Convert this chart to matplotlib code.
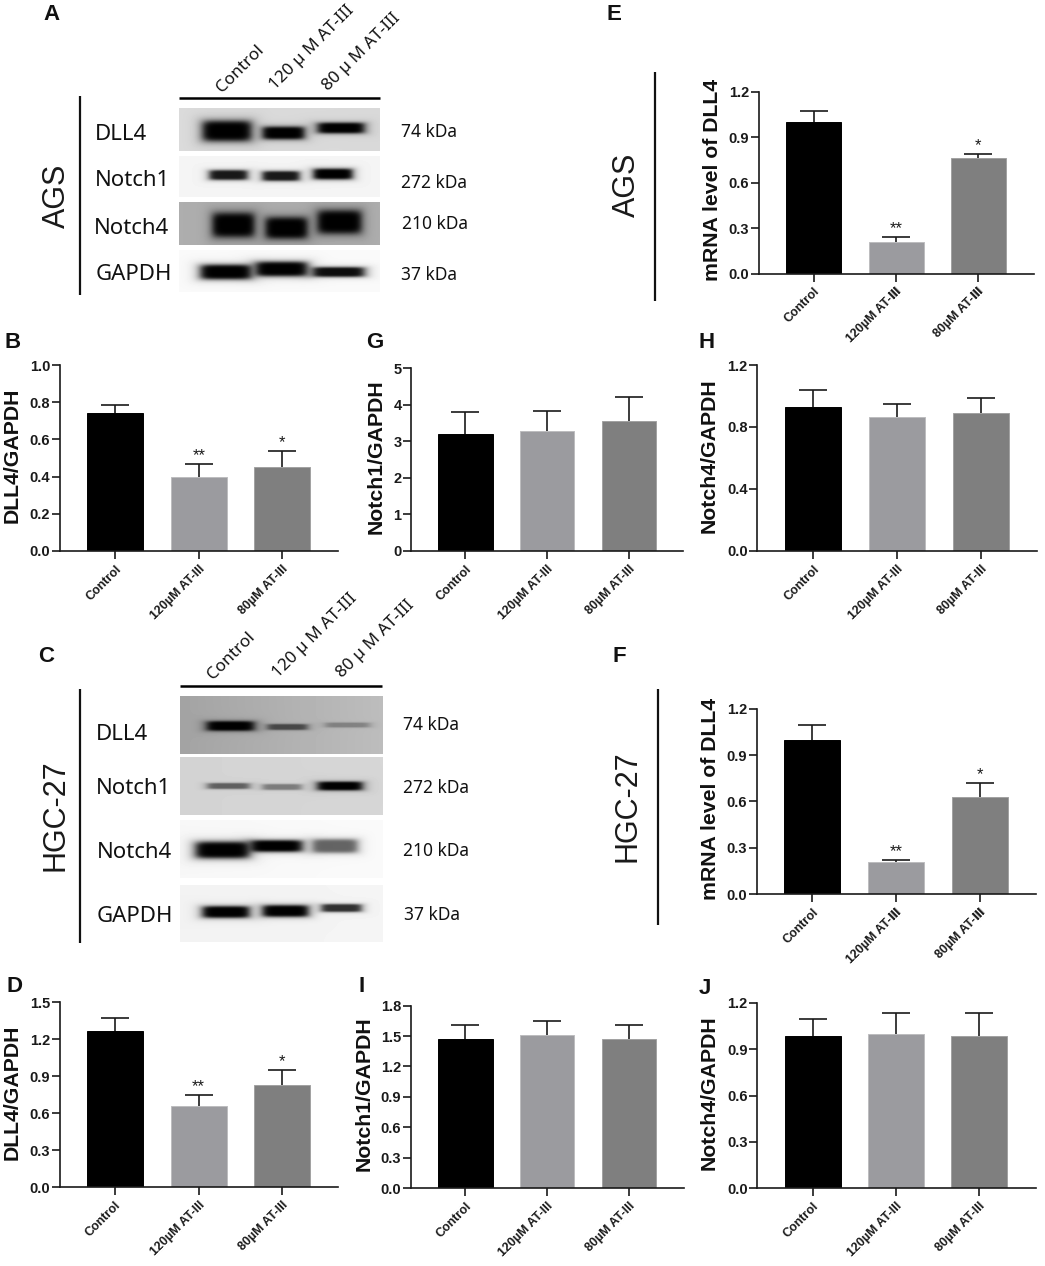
import matplotlib

matplotlib.use("Agg")
import matplotlib.pyplot as plt
import numpy as np

plt.rcParams['font.family'] = ['Liberation Sans', 'DejaVu Sans']

W, H = 1045, 1266
BLOT_FONT = ['Noto Sans', 'DejaVu Sans']
BAR_COLORS = ['#000000', '#9b9b9f', '#7f7f7f']
BAR_EDGES = ['#000000', '#bdbdbf', '#a2a2a2']

LABELS_DASH = ['Control', '120µM AT-III', '80µM AT-III']
LABELS_ROMAN = ['Control', '120µM AT-Ⅲ', '80µM AT-Ⅲ']

# bar heights and upper error bar ends
dll4_ags = [0.74, 0.40, 0.45]
dll4_ags_top = [0.785, 0.47, 0.54]
notch1_ags = [3.21, 3.29, 3.57]
notch1_ags_top = [3.80, 3.82, 4.21]
notch4_ags = [0.931, 0.866, 0.888]
notch4_ags_top = [1.041, 0.948, 0.985]
dll4_hgc = [1.263, 0.66, 0.825]
dll4_hgc_top = [1.368, 0.75, 0.947]
notch1_hgc = [1.471, 1.51, 1.468]
notch1_hgc_top = [1.609, 1.649, 1.606]
notch4_hgc = [0.982, 0.998, 0.987]
notch4_hgc_top = [1.094, 1.133, 1.133]
mrna_ags = [1.0, 0.209, 0.76]
mrna_ags_top = [1.073, 0.24, 0.79]
mrna_hgc = [1.0, 0.205, 0.628]
mrna_hgc_top = [1.094, 0.222, 0.72]

stars = ['', '**', '*']

# blot rows: name, top, bottom, background left/right grey
blot_ags_rows = [
    ('DLL4', 108, 151, 0.86, 0.85),
    ('Notch1', 156, 197, 0.96, 0.96),
    ('Notch4', 202, 245, 0.68, 0.68),
    ('GAPDH', 250, 292, 0.98, 0.98),
]
# bands per row: left, right, centre, height, strength
blot_ags_bands = [
    [(202, 252, 131, 21, 1.0), (262, 305, 133, 13, 1.0), (317, 365, 128, 11, 1.0)],
    [(209, 248, 175, 10, 0.9), (262, 300, 176, 10, 0.9), (313, 353, 174, 11, 1.0)],
    [(212, 255, 225, 25, 1.0), (265, 308, 228, 22, 1.0), (317, 362, 222, 24, 1.0)],
    [(200, 252, 272, 15, 1.0), (255, 308, 269, 15, 1.0), (312, 365, 272, 10, 0.95)],
]
blot_ags_kda = ['74 kDa', '272 kDa', '210 kDa', '37 kDa']

blot_hgc_rows = [
    ('DLL4', 696, 754, 0.64, 0.74),
    ('Notch1', 757, 815, 0.83, 0.84),
    ('Notch4', 820, 878, 0.97, 0.98),
    ('GAPDH', 885, 942, 0.95, 0.96),
]
blot_hgc_bands = [
    [(206, 255, 726, 10, 1.0), (267, 308, 727, 6, 0.6), (325, 370, 725, 5, 0.3)],
    [(207, 250, 786, 6, 0.55), (262, 302, 787, 6, 0.42), (317, 363, 786, 9, 1.0)],
    [(195, 250, 850, 17, 1.0), (250, 303, 846, 12, 1.0), (312, 358, 846, 14, 0.6)],
    [(202, 250, 912, 12, 1.0), (262, 309, 911, 12, 1.0), (321, 362, 908, 8, 0.8)],
]
blot_hgc_kda = ['74 kDa', '272 kDa', '210 kDa', '37 kDa']


fig = plt.figure(figsize=(W / 100, H / 100), dpi=100, facecolor='white')
page = fig.add_axes([0, 0, 1, 1])
page.axis('off')


def draw_blot(rows, bands, x0, x1):
    """Paints one stack of blot strips, in page pixels."""
    for (name, top, bottom, g0, g1), row_bands in zip(rows, bands):
        xs = np.arange(x0, x1) + 0.5
        ys = np.arange(top, bottom) + 0.5
        img = np.tile(np.linspace(g0, g1, len(xs)), (len(ys), 1))
        xx, yy = np.meshgrid(xs, ys)
        for left, right, cy, height, strength in row_bands:
            dx = np.abs(xx - (left + right) / 2) / ((right - left) / 2)
            dy = np.abs(yy - cy) / (height / 2)
            d = dx ** 6 + dy ** 4
            img *= 1 - strength / (1 + d ** 1.5)
        page.imshow(img, extent=(x0, x1, bottom, top), cmap='gray',
                    vmin=0, vmax=1, aspect='auto', interpolation='bilinear')


def bar_panel(values, tops, ylabel, yticks, ticklabels, x_labels, x0, x1, y_top, y0,
              centers, bar_w, ylabel_x, marks=None):
    ax = fig.add_axes([x0 / W, 1 - y0 / H, (x1 - x0) / W, (y0 - y_top) / H])
    ax.patch.set_visible(False)
    step = (centers[2] - centers[0]) / 2
    pos = np.arange(3)
    ax.set_xlim(-(centers[0] - x0) / step, 2 + (x1 - centers[2]) / step)
    ax.set_ylim(0, yticks[-1])
    ax.bar(pos, values, width=bar_w / step, color=BAR_COLORS, edgecolor=BAR_EDGES,
           linewidth=0.7, zorder=3)
    # upper whisker only, the lower cap would show on top of the bar
    ax.vlines(pos, values, tops, color='#1a1a1a', linewidth=1.2, zorder=2)
    ax.plot(pos, tops, linestyle='none', marker='_', markersize=20, markeredgewidth=1.2,
            color='#1a1a1a', zorder=2, clip_on=False)
    for spine in ['top', 'right']:
        ax.spines[spine].set_visible(False)
    for spine in ['left', 'bottom']:
        ax.spines[spine].set_linewidth(1.2)
        ax.spines[spine].set_color('#1a1a1a')
        ax.spines[spine].set_zorder(4)
    ax.set_yticks(yticks)
    ax.set_yticklabels(ticklabels, fontsize=10.5, fontweight='bold', color='#1a1a1a')
    ax.set_xticks(pos)
    ax.set_xticklabels(x_labels, fontsize=9, fontweight='bold', rotation=45, ha='right',
                       va='top', rotation_mode='anchor', color='#1a1a1a')
    ax.tick_params(axis='both', length=5.5, width=1.2, color='#1a1a1a')
    ax.tick_params(axis='y', pad=1.5)
    ax.tick_params(axis='x', pad=3)
    ax.set_ylabel(ylabel, fontsize=15.3, fontweight='bold', va='center', color='#111111')
    ax.yaxis.set_label_coords((ylabel_x - x0) / (x1 - x0), 0.515)
    if marks:
        for p, top, mark in zip(pos, tops, marks):
            if mark:
                ax.annotate(mark, (p, top), xytext=(0, 0.5), textcoords='offset points',
                            ha='center', va='bottom', fontsize=12, color='#1a1a1a')
    return ax


bar_panel(dll4_ags, dll4_ags_top, 'DLL4/GAPDH', [0, 0.2, 0.4, 0.6, 0.8, 1.0],
          ['0.0', '0.2', '0.4', '0.6', '0.8', '1.0'], LABELS_DASH,
          60, 338, 365, 551, [115.3, 199, 282.3], 56, 12, stars)
bar_panel(notch1_ags, notch1_ags_top, 'Notch1/GAPDH', [0, 1, 2, 3, 4, 5],
          ['0', '1', '2', '3', '4', '5'], LABELS_DASH,
          411.3, 683, 368.3, 551, [465.3, 547.3, 629], 54.5, 376)
bar_panel(notch4_ags, notch4_ags_top, 'Notch4/GAPDH', [0, 0.4, 0.8, 1.2],
          ['0.0', '0.4', '0.8', '1.2'], LABELS_DASH,
          757.3, 1037, 365, 551, [813.3, 897, 981], 56, 709)
bar_panel(dll4_hgc, dll4_hgc_top, 'DLL4/GAPDH', [0, 0.3, 0.6, 0.9, 1.2, 1.5],
          ['0.0', '0.3', '0.6', '0.9', '1.2', '1.5'], LABELS_DASH,
          60, 338, 1002, 1187.3, [115, 198.7, 282], 56, 12, stars)
bar_panel(notch1_hgc, notch1_hgc_top, 'Notch1/GAPDH', [0, 0.3, 0.6, 0.9, 1.2, 1.5, 1.8],
          ['0.0', '0.3', '0.6', '0.9', '1.2', '1.5', '1.8'], LABELS_DASH,
          410.7, 684, 1005.7, 1188, [465.3, 547, 629], 54.5, 364)
bar_panel(notch4_hgc, notch4_hgc_top, 'Notch4/GAPDH', [0, 0.3, 0.6, 0.9, 1.2],
          ['0.0', '0.3', '0.6', '0.9', '1.2'], LABELS_DASH,
          757.3, 1035.7, 1002.7, 1188.3, [812.7, 896, 979.3], 56, 709)
bar_panel(mrna_ags, mrna_ags_top, 'mRNA level of DLL4', [0, 0.3, 0.6, 0.9, 1.2],
          ['0.0', '0.3', '0.6', '0.9', '1.2'], LABELS_ROMAN,
          759, 1034, 91.7, 273.7, [813.7, 896, 978.3], 55, 713, stars)
bar_panel(mrna_hgc, mrna_hgc_top, 'mRNA level of DLL4', [0, 0.3, 0.6, 0.9, 1.2],
          ['0.0', '0.3', '0.6', '0.9', '1.2'], LABELS_ROMAN,
          757, 1036.3, 708.7, 894, [812.3, 896, 980], 56, 711, stars)

draw_blot(blot_ags_rows, blot_ags_bands, 179, 380)
draw_blot(blot_hgc_rows, blot_hgc_bands, 180, 383)

# page furniture: rules next to the blots and the mRNA panels
for x, y0, y1 in [(79.5, 96, 295), (79.5, 689, 943), (655, 72, 301), (657.7, 689, 925)]:
    page.plot([x, x], [y0, y1], color='#111111', lw=1.6, solid_capstyle='butt')
for y, x0, x1 in [(98, 179, 380), (686, 180, 382)]:
    page.plot([x0, x1], [y, y], color='#000000', lw=1.8, solid_capstyle='butt')

page.set_xlim(0, W)
page.set_ylim(H, 0)

for letter, x, y in [('A', 43, 15), ('B', 5, 342), ('C', 38, 657), ('D', 7, 987), ('E', 607, 15),
                     ('F', 612, 657), ('G', 366, 342), ('H', 699, 342), ('I', 358, 987), ('J', 699, 988)]:
    page.text(x, y, letter, fontsize=16, fontweight='bold', ha='left', va='center', color='#111111')

for name, x, y in [('AGS', 57, 196), ('HGC-27', 56, 815), ('AGS', 627, 185), ('HGC-27', 628, 806)]:
    page.text(x, y, name, fontsize=22, rotation=90, ha='center', va='center', color='#1a1a1a')

for (name, *_), x, y in zip(blot_ags_rows, [95, 95, 94, 96], [134, 180, 228, 275]):
    page.text(x, y, name, fontsize=16, family=BLOT_FONT, ha='left', va='center', color='#111111')
for (name, *_), x, y in zip(blot_hgc_rows, [96, 96, 97, 97], [735, 789, 852, 916]):
    page.text(x, y, name, fontsize=16, family=BLOT_FONT, ha='left', va='center', color='#111111')
for text, x, y in zip(blot_ags_kda, [401, 401, 402, 401], [132, 183, 224, 275]):
    page.text(x, y, text, fontsize=12.5, family=BLOT_FONT, ha='left', va='center', color='#111111')
for text, x, y in zip(blot_hgc_kda, [403, 403, 403, 404], [725, 788, 851, 915]):
    page.text(x, y, text, fontsize=12.5, family=BLOT_FONT, ha='left', va='center', color='#111111')

for text, x, y in [('Control', 222, 93), ('120 µ M AT-III', 275, 90), ('80 µ M AT-III', 328, 91),
                   ('Control', 213, 680), ('120 µ M AT-III', 278, 678), ('80 µ M AT-III', 342, 678)]:
    page.text(x, y, text, fontsize=12.3, family=BLOT_FONT, rotation=45, rotation_mode='anchor',
              ha='left', va='baseline', color='#111111')

fig.savefig('out.png', dpi=100)
plt.close(fig)
